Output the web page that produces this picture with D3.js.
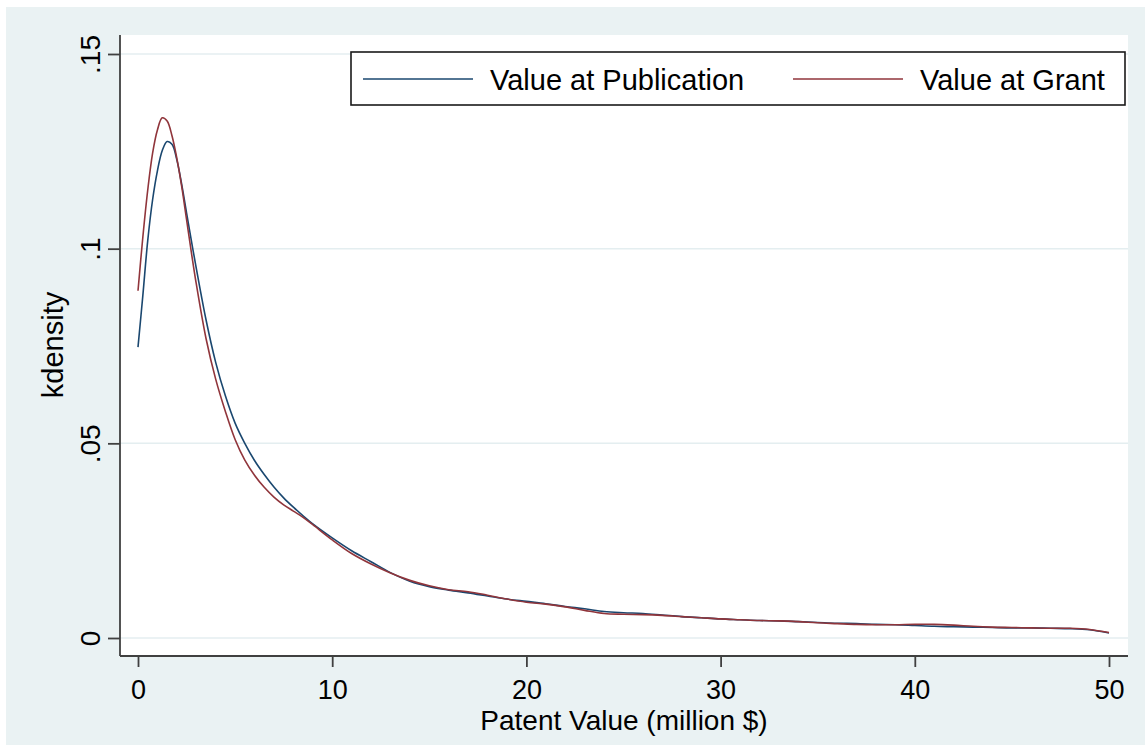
<!DOCTYPE html>
<html>
<head>
<meta charset="utf-8">
<script src="https://cdn.jsdelivr.net/npm/d3@7"></script>
<style>
  html, body { margin: 0; padding: 0; background: #ffffff; }
  svg { display: block; }
  text { font-family: "Liberation Sans", Arial, sans-serif; fill: #000; }
</style>
</head>
<body>
<svg id="chart" width="1145" height="745"></svg>
<script>
// Evaluation grid (million $) shared by both kernel density estimates
const valueGrid = [0, 0.25, 0.5, 0.75, 1, 1.25, 1.5, 1.75, 2, 2.25, 2.5, 2.75, 3,
  3.5, 4, 4.5, 5, 5.5, 6, 6.5, 7, 7.5, 8, 8.5, 9,
  10, 11, 12, 13, 14, 15, 16, 17, 18, 19, 20, 21, 22, 23, 24, 25, 26, 27, 28, 29, 30,
  31, 32, 33, 34, 35, 36, 37, 38, 39, 40, 41, 42, 43, 44, 45, 46, 47, 48, 49, 50];

// Density of patent value at publication
const densityPublication = [0.0747, 0.0880, 0.1020, 0.1125, 0.1200, 0.1252, 0.1275, 0.1268, 0.1228, 0.1165, 0.1092, 0.1020, 0.0950,
  0.0818, 0.0708, 0.0622, 0.0552, 0.0500, 0.0456, 0.0420, 0.0388, 0.0360, 0.0336, 0.0314, 0.0293,
  0.0257, 0.0224, 0.0196, 0.0168, 0.0146, 0.0132, 0.0123, 0.0116, 0.0108, 0.0100, 0.0094, 0.0088, 0.0081, 0.0075, 0.0068, 0.0065, 0.0063, 0.0059, 0.0055, 0.0052, 0.0049,
  0.0047, 0.0045, 0.0044, 0.0042, 0.0040, 0.0038, 0.0037, 0.0035, 0.0034, 0.0032, 0.0030, 0.0029, 0.0028, 0.0027, 0.0026, 0.0026, 0.0025, 0.0024, 0.0021, 0.0013];

// Density of patent value at grant
const densityGrant = [0.0892, 0.1030, 0.1150, 0.1245, 0.1305, 0.1336, 0.1328, 0.1290, 0.1232, 0.1160, 0.1075, 0.0990, 0.0910,
  0.0770, 0.0665, 0.0582, 0.0510, 0.0457, 0.0418, 0.0387, 0.0362, 0.0342, 0.0326, 0.0310, 0.0291,
  0.0252, 0.0217, 0.0190, 0.0167, 0.0148, 0.0134, 0.0124, 0.0119, 0.0110, 0.0100, 0.0092, 0.0087, 0.0080, 0.0071, 0.0063, 0.0061, 0.0060, 0.0058, 0.0055, 0.0052, 0.0049,
  0.0047, 0.0045, 0.0044, 0.0042, 0.0039, 0.0037, 0.0035, 0.0034, 0.0034, 0.0035, 0.0035, 0.0033, 0.0030, 0.0028, 0.0027, 0.0026, 0.0025, 0.0025, 0.0022, 0.0014];

const xTicks = [0, 10, 20, 30, 40, 50];
const yTicks = [0, 0.05, 0.1, 0.15];
const yTickLabels = ["0", ".05", ".1", ".15"];
const seriesNames = ["Value at Publication", "Value at Grant"];
const seriesColors = ["#1a476f", "#90353b"];

const svg = d3.select("#chart");

// Graph region and plot region
const region = { x0: 6, y0: 7, x1: 1145, y1: 745 };
const plot = { left: 120, top: 35, right: 1128, bottom: 656 };

svg.append("rect")
  .attr("x", region.x0).attr("y", region.y0)
  .attr("width", region.x1 - region.x0).attr("height", region.y1 - region.y0)
  .attr("fill", "#eaf2f3");

svg.append("rect")
  .attr("x", plot.left).attr("y", plot.top)
  .attr("width", plot.right - plot.left).attr("height", plot.bottom - plot.top)
  .attr("fill", "#ffffff");

const x = d3.scaleLinear().domain([0, 50]).range([138, 1109]);
const y = d3.scaleLinear().domain([0, 0.15]).range([638, 54]);

// Horizontal gridlines
svg.append("g")
  .selectAll("line")
  .data(yTicks)
  .join("line")
  .attr("x1", plot.left).attr("x2", plot.right)
  .attr("y1", d => y(d)).attr("y2", d => y(d))
  .attr("stroke", "#e4eef0")
  .attr("stroke-width", 1.5);

// Density curves
const series = [densityPublication, densityGrant];
const line = d3.line()
  .x(d => x(d[0]))
  .y(d => y(d[1]))
  .curve(d3.curveCatmullRom.alpha(0.5));

svg.append("g")
  .selectAll("path")
  .data(series)
  .join("path")
  .attr("d", s => line(valueGrid.map((v, i) => [v, s[i]])))
  .attr("fill", "none")
  .attr("stroke", (s, i) => seriesColors[i])
  .attr("stroke-width", 1.6)
  .attr("stroke-linejoin", "round");

// Y axis
const yAxis = d3.axisLeft(y)
  .tickValues(yTicks)
  .tickFormat((d, i) => yTickLabels[i])
  .tickSize(12)
  .tickPadding(8);

const gy = svg.append("g")
  .attr("transform", `translate(${plot.left},0)`)
  .call(yAxis);
gy.select(".domain").remove();
gy.append("line")
  .attr("x1", 0).attr("x2", 0)
  .attr("y1", plot.top).attr("y2", plot.bottom)
  .attr("stroke", "#404040").attr("stroke-width", 1.8);
gy.selectAll(".tick line").attr("stroke", "#404040").attr("stroke-width", 1.8);
gy.selectAll(".tick text")
  .attr("font-size", 28)
  .attr("font-family", "Liberation Sans, Arial, sans-serif")
  .attr("fill", "#000")
  .attr("transform", "rotate(-90)")
  .attr("x", 0)
  .attr("y", -20)
  .attr("dy", 0)
  .attr("text-anchor", "middle")
  .each(function() {
    const t = d3.select(this.parentNode).attr("transform");
    const ty = +t.match(/translate\(([^,]+),([^)]+)\)/)[2];
    d3.select(this.parentNode).attr("transform", `translate(0,${ty})`);
  });

// X axis
const xAxis = d3.axisBottom(x)
  .tickValues(xTicks)
  .tickFormat(d3.format("d"))
  .tickSize(11)
  .tickPadding(6);

const gx = svg.append("g")
  .attr("transform", `translate(0,${plot.bottom})`)
  .call(xAxis);
gx.select(".domain").remove();
gx.append("line")
  .attr("x1", plot.left).attr("x2", plot.right)
  .attr("y1", 0).attr("y2", 0)
  .attr("stroke", "#404040").attr("stroke-width", 1.8);
gx.selectAll(".tick line").attr("stroke", "#404040").attr("stroke-width", 1.8);
gx.selectAll(".tick text")
  .attr("font-size", 27)
  .attr("font-family", "Liberation Sans, Arial, sans-serif")
  .attr("fill", "#000")
  .attr("dy", 0)
  .attr("y", 43);

// Axis titles
svg.append("text")
  .attr("x", (plot.left + plot.right) / 2)
  .attr("y", 730)
  .attr("text-anchor", "middle")
  .attr("font-size", 28)
  .text("Patent Value (million $)");

svg.append("text")
  .attr("transform", "translate(63,345) rotate(-90)")
  .attr("text-anchor", "middle")
  .attr("font-size", 29)
  .text("kdensity");

// Legend
const legend = svg.append("g");
legend.append("rect")
  .attr("x", 351).attr("y", 52)
  .attr("width", 774).attr("height", 53)
  .attr("fill", "#ffffff")
  .attr("stroke", "#1a1a1a")
  .attr("stroke-width", 1.6);

const legendItems = [
  { lx: 363, tx: 490 },
  { lx: 793, tx: 920 }
];
legend.selectAll("g.item")
  .data(seriesNames)
  .join("g")
  .attr("class", "item")
  .each(function(name, i) {
    const g = d3.select(this);
    g.append("line")
      .attr("x1", legendItems[i].lx).attr("x2", legendItems[i].lx + 110)
      .attr("y1", 79).attr("y2", 79)
      .attr("stroke", seriesColors[i])
      .attr("stroke-width", 1.6);
    g.append("text")
      .attr("x", legendItems[i].tx)
      .attr("y", 90)
      .attr("font-size", 29)
      .text(name);
  });
</script>
</body>
</html>
